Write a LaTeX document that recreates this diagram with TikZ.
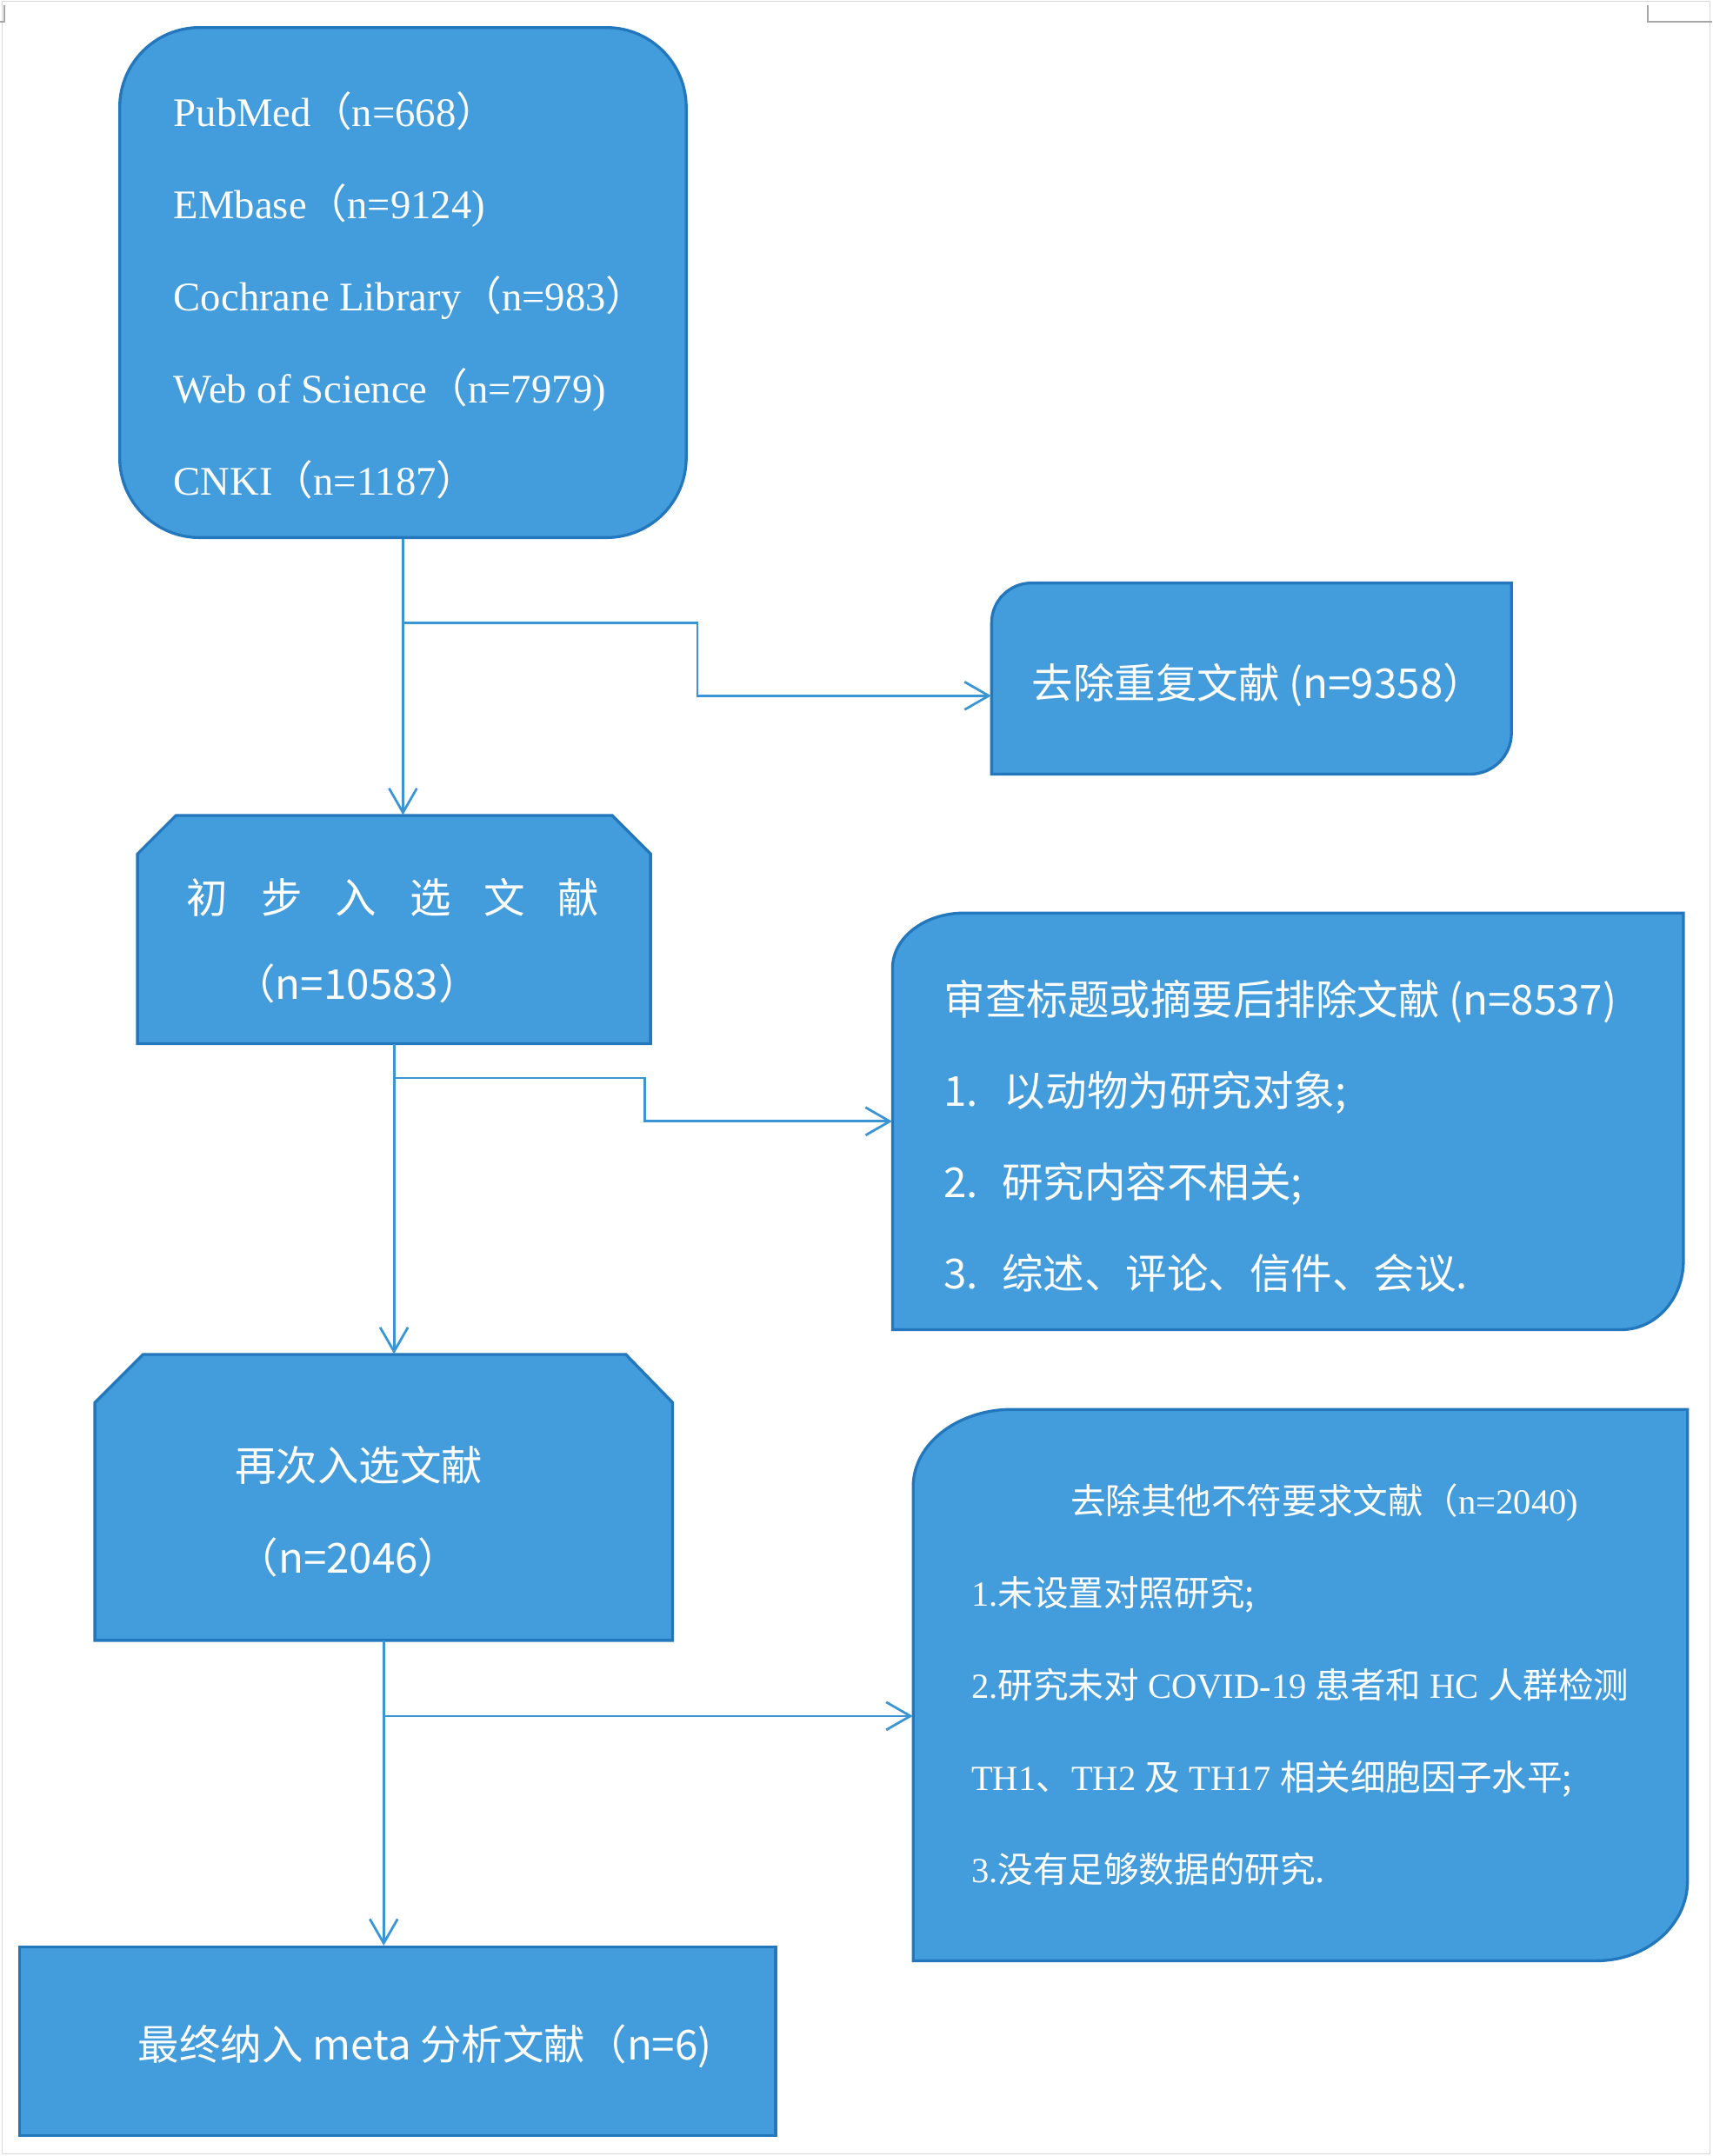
\documentclass[tikz,border=0pt]{standalone}
\usepackage{fontspec}
\setmainfont{Liberation Serif}
\newfontfamily\cjk{Noto Sans CJK SC}
\usetikzlibrary{arrows.meta}
\definecolor{boxblue}{HTML}{439CDB}
\definecolor{boxedge}{HTML}{2377BD}
\definecolor{lineblue}{HTML}{3A95D5}
\newcommand{\zh}[1]{{\cjk #1}}
\newcommand{\zlp}{{\cjk （}}
\newcommand{\zrp}{{\cjk ）}}

\begin{document}
\begin{tikzpicture}[x=0.02cm,y=-0.02cm,
    flowbox/.style={draw=boxedge,fill=boxblue,line width=1.2pt},
    holder/.style={inner sep=0pt},
    srcline/.style={text=white,anchor=base west,inner sep=0pt,font=\fontsize{16.8pt}{20pt}\selectfont},
    cjkline/.style={text=white,anchor=base west,inner sep=0pt,font=\cjk\fontsize{17.1pt}{20pt}\selectfont},
    othline/.style={text=white,anchor=base west,inner sep=0pt,font=\fontsize{14.6pt}{18pt}\selectfont},
    flow/.style={draw=lineblue,line width=1pt,-{Straight Barb[length=10pt,width=11.5pt]}}]
    \useasboundingbox (0,0) rectangle (1245,1568);
    % page frame and crop marks
    \draw[black!15,line width=0.5pt] (1.5,0.8) rectangle (1243.5,1566.5);
    \draw[black!35,line width=0.6pt] (0,16) -- (3,16) -- (3,4);
    \draw[black!35,line width=0.6pt] (1245,16) -- (1198,16) -- (1198,4);

    % boxes
    \node[flowbox,rounded corners=1.16cm,minimum width=8.24cm,minimum height=7.42cm] (src) at (293,205.5) {};
    \path[flowbox] (721,563) -- (721,453) arc (180:270:29) -- (1099,424) -- (1099,533) arc (0:90:30) -- cycle;
    \node[holder,minimum width=7.56cm,minimum height=2.78cm] (dup) at (910,493.5) {};
    \path[flowbox] (100,759) -- (100,621) -- (128,593) -- (445,593) -- (473,621) -- (473,759) -- cycle;
    \node[holder,minimum width=7.46cm,minimum height=3.32cm] (ini) at (286.5,676) {};
    \path[flowbox] (649,967) -- (649,704) arc[start angle=180,end angle=270,x radius=52,y radius=40] -- (1224,664) -- (1224,917) arc[start angle=0,end angle=90,x radius=45,y radius=50] -- cycle;
    \node[holder,minimum width=11.5cm,minimum height=6.06cm] (scr) at (936.5,815.5) {};
    \path[flowbox] (69,1193) -- (69,1020) -- (104,985) -- (455,985) -- (489,1020) -- (489,1193) -- cycle;
    \node[holder,minimum width=8.4cm,minimum height=4.16cm] (sec) at (279,1089) {};
    \path[flowbox] (664,1426) -- (664,1081) arc[start angle=180,end angle=270,x radius=72,y radius=56] -- (1227,1025) -- (1227,1368) arc[start angle=0,end angle=90,x radius=66,y radius=58] -- cycle;
    \node[holder,minimum width=11.26cm,minimum height=8.02cm] (oth) at (945.5,1225.5) {};
    \node[flowbox,minimum width=11cm,minimum height=2.74cm] (fin) at (289,1484.5) {};

    % texts
    \foreach \txt [count=\i from 0] in {{PubMed\zlp n=668\zrp},{EMbase\zlp n=9124)},{Cochrane Library\zlp n=983\zrp},{Web of Science\zlp n=7979)},{CNKI\zlp n=1187\zrp}}
        \node[srcline] (src-\i) at (126,92+67*\i) {\txt};
    \node[cjkline] (dup-t) at (750,508) {去除重复文献 (n=9358）};
    \foreach \c [count=\i from 0] in {初,步,入,选,文,献}
        \node[cjkline] (ini-c\i) at (135.5+54*\i,664) {\c};
    \node[cjkline] (ini-n) at (170,727) {（n=10583）};
    \foreach \txt [count=\i from 0] in {{审查标题或摘要后排除文献 (n=8537)},{\makebox[25pt][l]{1.}以动物为研究对象;},{\makebox[24pt][l]{2.}研究内容不相关;},{\makebox[24pt][l]{3.}综述、评论、信件、会议.}}
        \node[cjkline] (scr-\i) at (686,738+66.4*\i) {\txt};
    \node[cjkline] (sec-t) at (170.5,1077) {再次入选文献};
    \node[cjkline] (sec-n) at (172,1144) {（n=2046）};
    \node[othline] (oth-0) at (778,1101) {\zh{去除其他不符要求文献（}n=2040)};
    \foreach \txt [count=\i from 1] in {{1.\zh{未设置对照研究;}},{2.\zh{研究未对} COVID-19 \zh{患者和} HC \zh{人群检测}},{TH1\zh{、}TH2 \zh{及} TH17 \zh{相关细胞因子水平;}},{3.\zh{没有足够数据的研究.}}}
        \node[othline] (oth-\i) at (706,1101+67*\i) {\txt};
    \node[cjkline] (fin-t) at (100,1498) {最终纳入 meta 分析文献（n=6)};

    % connectors
    \coordinate (b1) at (src.south |- 0,453);
    \coordinate (b2) at (ini.south |- 0,784);
    \coordinate (b3) at (sec.south |- 0,1248);
    \draw[flow] (src.south) -- (src.south |- ini.north);
    \draw[flow] (b1) -- (507,453) |- (dup.west |- 0,506);
    \draw[flow] (ini.south) -- (ini.south |- sec.north);
    \draw[flow] (b2) -- (469,784) |- (scr.west);
    \draw[flow] (sec.south) -- (sec.south |- fin.north);
    \draw[flow] (b3) -- (oth.west |- b3);
\end{tikzpicture}
\end{document}
